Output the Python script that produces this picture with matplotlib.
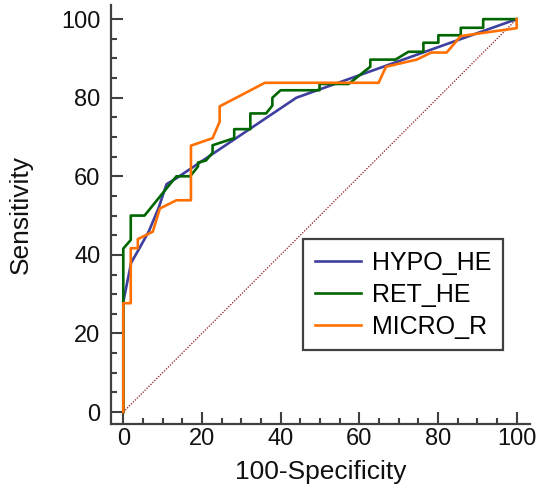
import matplotlib
matplotlib.use("Agg")
import matplotlib.pyplot as plt
from matplotlib.ticker import MultipleLocator

plt.rcParams['font.family'] = ['Liberation Sans', 'DejaVu Sans']

# ROC curve data (100-Specificity, Sensitivity)
hypo_x = [0, 0, 2, 4, 6.5, 9, 11, 13.5, 44, 100]
hypo_y = [0, 28, 38, 41.5, 46, 52, 58, 59.5, 80, 100]

ret_x = [0, 0, 1.9, 1.9, 5.4, 13.5, 17, 19, 19, 21, 22.7, 22.7, 28.2, 28.2, 32.3, 32.3,
         36.3, 37.9, 37.9, 40, 49.9, 49.9, 57.3, 62.8, 62.8, 69.2, 72.5, 76.3, 76.3,
         80.1, 80.1, 85.8, 85.8, 91.5, 91.5, 100]
ret_y = [0, 41.6, 43.8, 50, 50, 60, 60, 62.5, 63.5, 64, 66, 67.9, 69.7, 72, 72, 76,
         76, 78, 80, 81.9, 81.9, 83.5, 83.5, 87.9, 89.7, 89.7, 91.7, 91.7, 94,
         94, 95.9, 95.9, 97.8, 97.8, 100, 100]

micro_x = [0, 0, 1.9, 1.9, 3.7, 3.7, 7.5, 9.3, 13.5, 17.2, 17.2, 22.7, 24.5, 24.5, 36,
           64.9, 66.8, 74.6, 78.3, 82.2, 85.8, 100, 100]
micro_y = [0, 27.7, 27.7, 41.7, 41.7, 44, 45.9, 51.8, 53.9, 53.9, 67.8, 69.7, 73.9, 77.8, 83.8,
           83.8, 87.9, 89.7, 91.5, 91.5, 95.7, 97.7, 100]

diag = [0, 100]

series_names = ["HYPO_HE", "RET_HE", "MICRO_R"]
colors = ["#3F3F9F", "#006600", "#FF7000"]

fig = plt.figure(figsize=(5.39, 4.87), dpi=100)
ax = fig.add_axes([110.7 / 539, 1 - 424 / 487, (530 - 110.7) / 539, (424 - 5) / 487])

ax.plot(diag, diag, color="#8B1A1A", lw=0.9, ls=(0, (1, 1.2)), zorder=1)
ax.plot(hypo_x, hypo_y, color=colors[0], lw=1.9, label=series_names[0], zorder=2)
ax.plot(ret_x, ret_y, color=colors[1], lw=1.9, label=series_names[1], zorder=3)
ax.plot(micro_x, micro_y, color=colors[2], lw=1.9, label=series_names[2], zorder=4)

ax.set_xlim(-3.2, 103.4)
ax.set_ylim(-3.05, 103.6)
ax.xaxis.set_major_locator(MultipleLocator(20))
ax.yaxis.set_major_locator(MultipleLocator(20))
ax.xaxis.set_minor_locator(MultipleLocator(5))
ax.yaxis.set_minor_locator(MultipleLocator(5))

for s in ["top", "right"]:
    ax.spines[s].set_visible(False)
for s in ["left", "bottom"]:
    ax.spines[s].set_color("#404040")
    ax.spines[s].set_linewidth(1.6)

ax.tick_params(which="both", direction="in", color="#404040", width=1.5,
               labelsize=17, labelcolor="#111111")
ax.tick_params(which="major", length=8.6)
ax.tick_params(which="minor", length=4.3)
ax.tick_params(axis="x", which="major", pad=3)
ax.tick_params(axis="y", which="major", pad=7.5)

ax.set_xlabel("100-Specificity", fontsize=19, color="#111111")
ax.set_ylabel("Sensitivity", fontsize=19, color="#111111")
ax.xaxis.set_label_coords(0.5, -0.085)
ax.yaxis.set_label_coords(-0.185, 0.5)

leg = ax.legend(loc="upper left", bbox_to_anchor=(303.3 / 539, 1 - 239.3 / 487),
                bbox_transform=fig.transFigure, borderaxespad=0, fontsize=18,
                handlelength=1.87, handletextpad=0.44, borderpad=0.45,
                labelspacing=0.33, fancybox=False, framealpha=1)
leg.get_frame().set_edgecolor("#404040")
leg.get_frame().set_linewidth(1.6)

fig.savefig("out.png", dpi=100)
